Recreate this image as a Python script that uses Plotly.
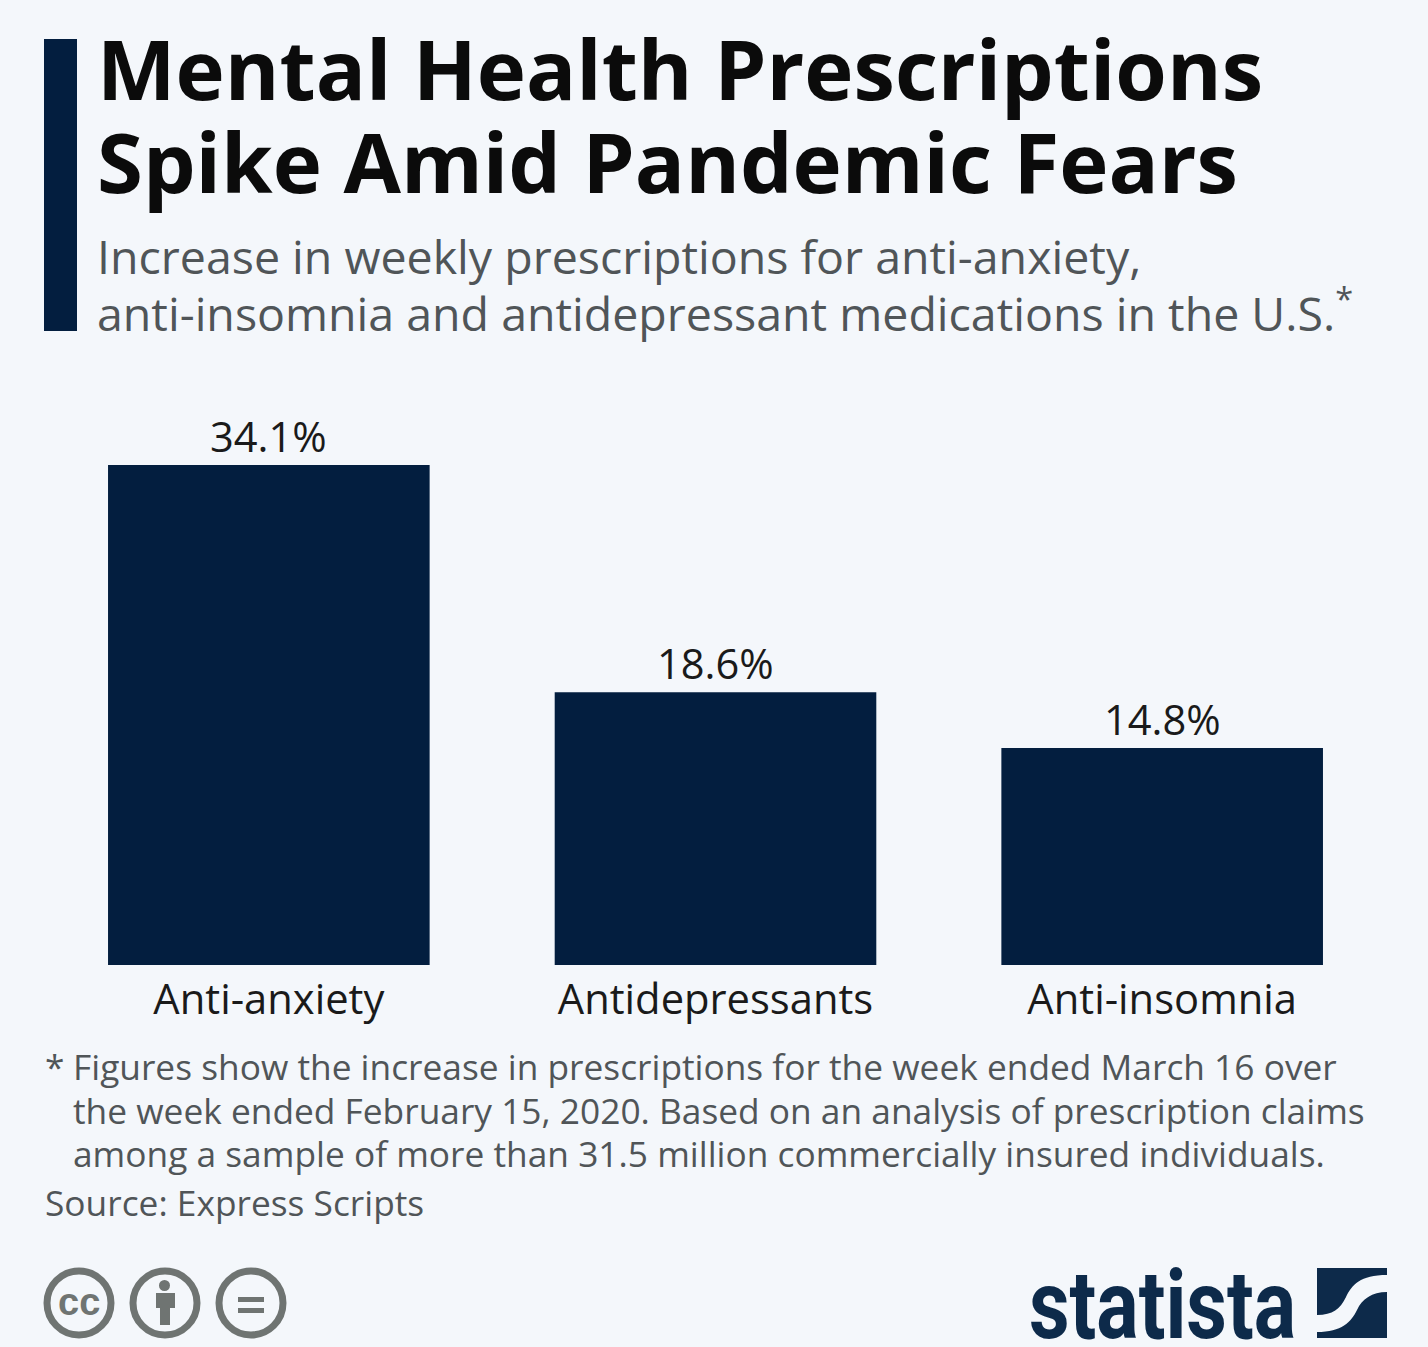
import plotly.graph_objects as go

categories = ["Anti-anxiety", "Antidepressants", "Anti-insomnia"]
values = [34.1, 18.6, 14.8]
value_labels = ["34.1%", "18.6%", "14.8%"]

W, H = 1428, 1347
BG = "#f4f7fb"
NAVY = "#031e3f"
GREY = "#505558"
ICON = "#6f7472"
FONT = "Open Sans"
Y_ZERO, Y_TOP = 965, 365   # plot area in px
YMAX = 34.1 * (Y_ZERO - Y_TOP) / 500

fig = go.Figure(go.Bar(
    x=categories, y=values, width=0.72,
    marker=dict(color=NAVY, line=dict(width=0)),
    hoverinfo="skip",
))

for cat, val, txt in zip(categories, values, value_labels):
    fig.add_annotation(x=cat, y=val, xref="x", yref="y", xanchor="center", yanchor="bottom",
                       yshift=0, text=txt, showarrow=False, borderpad=0,
                       font=dict(family=FONT, size=41.6, color="#1a1a1a"))

def px(x): return x / W
def py(y): return 1 - y / H

def label(x, y, text, size, color, bold=False, family=FONT):
    fig.add_annotation(
        x=px(x), y=py(y), xref="paper", yref="paper", xanchor="left", yanchor="middle",
        text=f"<b>{text}</b>" if bold else text, showarrow=False, align="left",
        font=dict(family=family, size=size, color=color), borderpad=0, borderwidth=0,
    )

label(97, 68, "Mental Health Prescriptions", 83.3, "#0b0b0b", True)
label(97, 161, "Spike Amid Pandemic Fears", 83.3, "#0b0b0b", True)
label(97, 256, "Increase in weekly prescriptions for anti-anxiety,", 46.5, GREY)
label(97, 311, "anti-insomnia and antidepressant medications in the U.S.<sup>*</sup>", 46.5, GREY)
label(45, 1066, "*", 35.3, GREY)
label(73, 1066, "Figures show the increase in prescriptions for the week ended March 16 over", 35.3, GREY)
label(73, 1110, "the week ended February 15, 2020. Based on an analysis of prescription claims", 35.3, GREY)
label(73, 1153, "among a sample of more than 31.5 million commercially insured individuals.", 35.3, GREY)
label(45, 1202, "Source: Express Scripts", 35.3, GREY)
label(1028.5, 1305, "statista", 96, "#0d2a4a", True, "Roboto")

shapes = [dict(type="rect", xref="paper", yref="paper", x0=px(44), x1=px(77),
               y0=py(331), y1=py(39), fillcolor=NAVY, line_width=0, layer="above")]

def pshape(path, fill):
    shapes.append(dict(type="path", xref="paper", yref="paper",
                       path=path, fillcolor=fill, line_width=0))

def ppath(s):
    out = []
    for c in s:
        if isinstance(c, str):
            out.append(c)
        else:
            out.append(f"{px(c[0]):.5f},{py(c[1]):.5f}")
    return " ".join(out)

for cx in (79, 165, 251):
    shapes.append(dict(type="circle", xref="paper", yref="paper",
                       x0=px(cx - 32), x1=px(cx + 32), y0=py(1303 + 32), y1=py(1303 - 32),
                       line=dict(color=ICON, width=7), fillcolor=BG))

# person glyph
shapes.append(dict(type="circle", xref="paper", yref="paper", x0=px(159), x1=px(170),
                   y0=py(1291), y1=py(1280), fillcolor=ICON, line_width=0))
pshape(ppath(["M", (156, 1293), "L", (175, 1293), "L", (175, 1308), "L", (170, 1308),
              "L", (170, 1325), "L", (160, 1325), "L", (160, 1308), "L", (156, 1308), "Z"]), ICON)
# equals glyph
for y0, y1 in ((1297, 1302), (1308, 1313)):
    shapes.append(dict(type="rect", xref="paper", yref="paper", x0=px(238), x1=px(264),
                       y0=py(y1), y1=py(y0), fillcolor=ICON, line_width=0))
# statista mark
pshape(ppath(["M", (1317, 1268), "L", (1387, 1268), "L", (1387, 1275), "C", (1360, 1275), (1352, 1285), (1346, 1297),
              "C", (1340, 1309), (1333, 1315), (1317, 1315), "Z"]), "#0d2a4a")
pshape(ppath(["M", (1387, 1292), "L", (1387, 1338), "L", (1317, 1338), "L", (1317, 1332),
              "C", (1342, 1332), (1351, 1322), (1357, 1310), "C", (1362, 1299), (1372, 1292), (1387, 1292), "Z"]), "#0d2a4a")

fig.add_annotation(x=px(79), y=py(1302), xref="paper", yref="paper", xanchor="center", yanchor="middle",
                   text="<b>cc</b>", showarrow=False,
                   font=dict(family="Liberation Sans", size=38, color=ICON))

fig.update_layout(
    width=W, height=H, autosize=False,
    margin=dict(l=0, r=0, t=0, b=0),
    paper_bgcolor=BG, plot_bgcolor=BG,
    showlegend=False, shapes=shapes, bargap=0.28,
    xaxis=dict(domain=[45.5 / W, 1385.5 / W], range=[-0.5, 2.5], showgrid=False, zeroline=False,
               showline=False, ticks="", tickfont=dict(family=FONT, size=41.7, color="#1a1a1a"),
               ticklen=0, automargin=False, ticklabelstandoff=6),
    yaxis=dict(domain=[py(Y_ZERO), py(Y_TOP)], range=[0, YMAX], visible=False),
)

POST = """
document.body.style.margin='0';
document.documentElement.style.overflow='hidden';
document.querySelectorAll('.annotation-text').forEach(function(t){
  if (t.textContent.trim() === 'statista') {
    var b = t.getBBox();
    var sx = 267 / b.width;
    t.setAttribute('transform', 'translate(' + b.x + ',0) scale(' + sx + ',1) translate(' + (-b.x) + ',0)');
  }
});
"""
fig.write_html("out.html", config={"displayModeBar": False}, post_script=POST)
